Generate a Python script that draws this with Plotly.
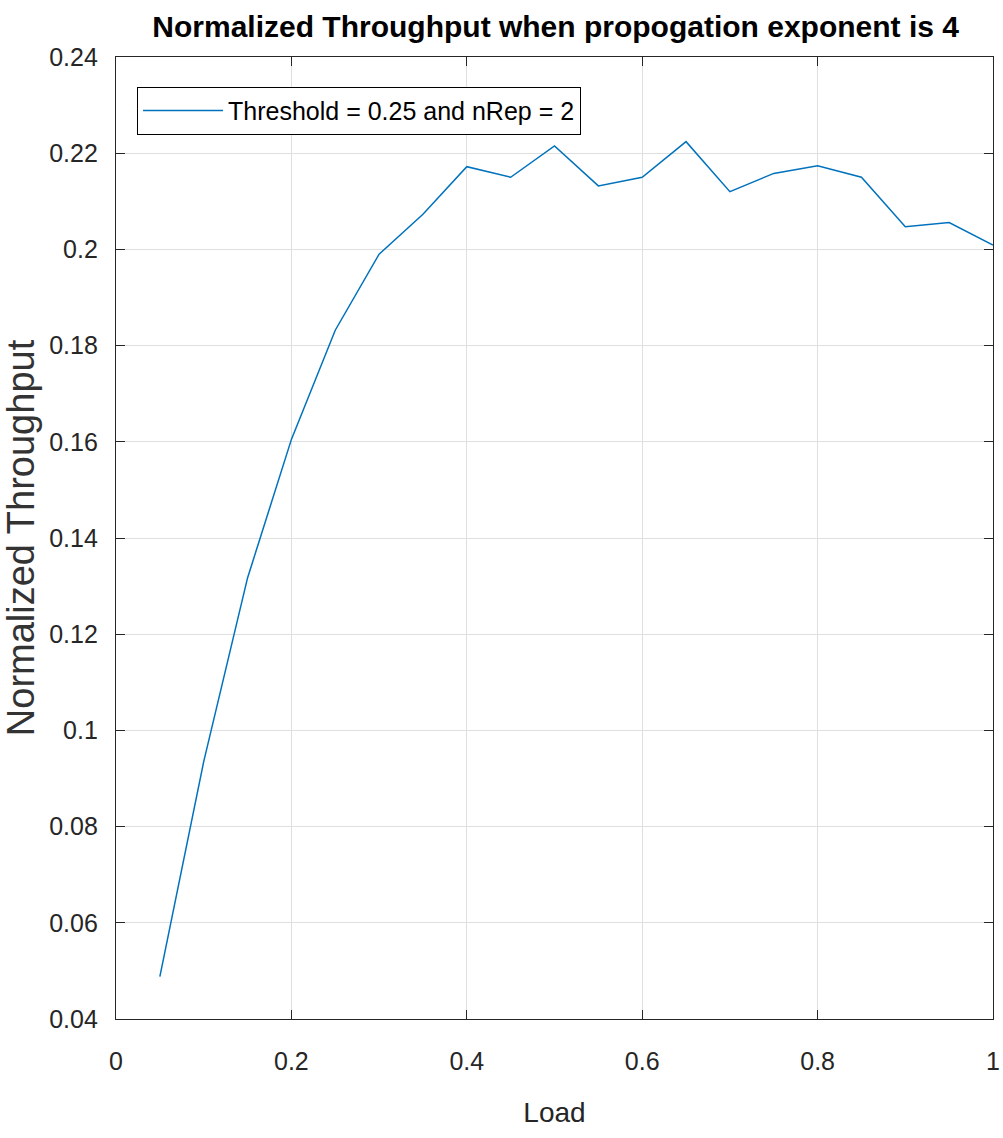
import plotly.graph_objects as go

# Simulated normalized throughput vs. offered load
load = [0.05, 0.10, 0.15, 0.20, 0.25, 0.30, 0.35, 0.40, 0.45, 0.50,
        0.55, 0.60, 0.65, 0.70, 0.75, 0.80, 0.85, 0.90, 0.95, 1.00]
throughput = [0.0488, 0.0935, 0.1317, 0.1605, 0.1832, 0.1990, 0.2073, 0.2172, 0.2150, 0.2215,
              0.2132, 0.2150, 0.2224, 0.2120, 0.2158, 0.2174, 0.2150, 0.2047, 0.2056, 0.2009]
series_name = "Threshold = 0.25 and nRep = 2"

x_ticks = [0, 0.2, 0.4, 0.6, 0.8, 1]
x_tick_text = ["0", "0.2", "0.4", "0.6", "0.8", "1"]
y_ticks = [0.04, 0.06, 0.08, 0.10, 0.12, 0.14, 0.16, 0.18, 0.20, 0.22, 0.24]
y_tick_text = ["0.04", "0.06", "0.08", "0.1", "0.12", "0.14", "0.16", "0.18", "0.2", "0.22", "0.24"]

FONT = "Liberation Sans, Arial, Helvetica, sans-serif"
AXIS_COLOR = "#262626"
GRID_COLOR = "#dfdfdf"

fig = go.Figure()
fig.add_trace(go.Scatter(
    x=load, y=throughput, mode="lines", name=series_name,
    line=dict(color="#0072BD", width=1.5),
))

axis_common = dict(
    showline=True, linecolor=AXIS_COLOR, linewidth=1.3, mirror="ticks",
    ticks="inside", ticklen=9, tickwidth=1.3, tickcolor=AXIS_COLOR,
    showgrid=True, gridcolor=GRID_COLOR, gridwidth=1,
    zeroline=False, automargin=False,
    tickfont=dict(family=FONT, size=25, color="#262626"),
)

fig.update_layout(
    width=1003, height=1138,
    margin=dict(l=116, r=10, t=57, b=119),
    paper_bgcolor="white", plot_bgcolor="white",
    title=dict(
        text="<b>Normalized Throughput when propogation exponent is 4</b>",
        font=dict(family=FONT, size=30, color="black"),
        x=0.554, xanchor="center", y=0.977, yanchor="middle",
    ),
    xaxis=dict(
        range=[0, 1], tickvals=x_ticks, ticktext=x_tick_text,
        ticklabelstandoff=20,
        title=dict(text="Load", font=dict(family=FONT, size=28, color="#262626"), standoff=28),
        **axis_common,
    ),
    yaxis=dict(
        range=[0.04, 0.24], tickvals=y_ticks, ticktext=y_tick_text,
        ticklabelstandoff=12,
        title=dict(text="Normalized Throughput",
                   font=dict(family=FONT, size=38, color="#333333"),
                   standoff=12),
        **axis_common,
    ),
    legend=dict(
        x=0.024, y=0.969, xanchor="left", yanchor="top",
        bgcolor="white", bordercolor="black", borderwidth=1,
        font=dict(family=FONT, size=25, color="black"),
        itemwidth=80,
    ),
    showlegend=True,
)

fig.write_html("out.html")
